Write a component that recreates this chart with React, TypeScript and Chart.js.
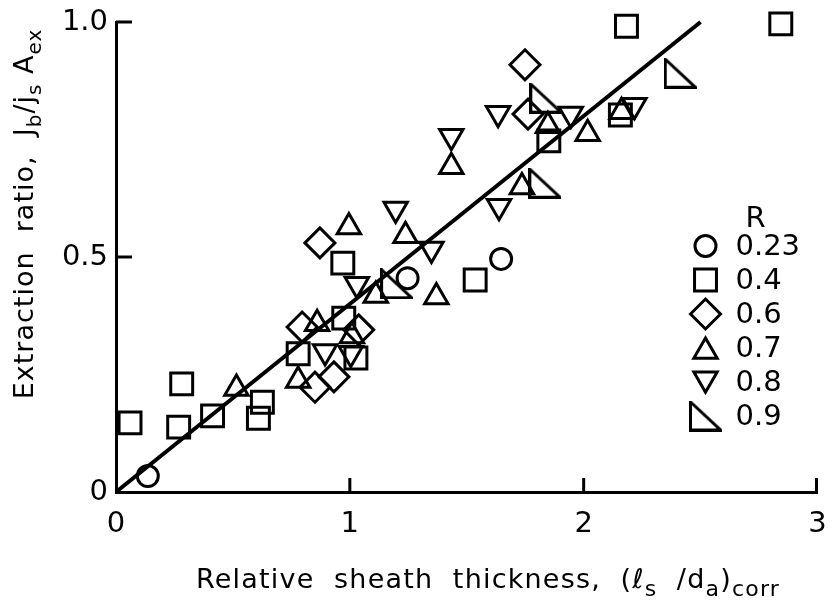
import React, { useEffect, useRef } from 'react';
import { Chart, registerables } from 'chart.js';
import { drawPoint } from 'chart.js/helpers';

Chart.register(...registerables);

// ---- data ----
const rLabels = ['0.23', '0.4', '0.6', '0.7', '0.8', '0.9'];

const circleX = [0.136, 1.247, 1.647];
const circleY = [0.034, 0.455, 0.496];

const squareX = [0.06, 0.268, 0.281, 0.413, 0.626, 0.609, 0.779, 0.97, 0.974, 1.026, 1.536, 1.851, 2.157, 2.183, 2.843];
const squareY = [0.147, 0.138, 0.23, 0.162, 0.191, 0.157, 0.294, 0.487, 0.37, 0.285, 0.451, 0.747, 0.802, 0.991, 0.996];

const diamondX = [0.796, 0.851, 0.872, 0.932, 1.038, 1.749, 1.762];
const diamondY = [0.351, 0.223, 0.53, 0.245, 0.345, 0.909, 0.804];

const upX = [0.515, 0.779, 0.86, 0.996, 1.009, 1.111, 1.238, 1.37, 1.434, 1.736, 1.847, 2.017, 2.162];
const upY = [0.22, 0.237, 0.358, 0.564, 0.332, 0.418, 0.545, 0.415, 0.692, 0.649, 0.779, 0.762, 0.809];

const downX = [0.894, 1.004, 1.03, 1.196, 1.349, 1.434, 1.634, 1.638, 1.945, 2.217];
const downY = [0.299, 0.295, 0.442, 0.602, 0.517, 0.757, 0.806, 0.608, 0.804, 0.823];

const rightX = [1.2, 1.834, 1.838, 2.413];
const rightY = [0.443, 0.657, 0.838, 0.891];

const fitX = [0, 2.5];
const fitY = [0, 1.0];

const xTicks = [0, 1, 2, 3];
const yTicks = [0, 0.5, 1.0];
const yTickLabels = ['0', '0.5', '1.0'];

const FONT = 'DejaVu Sans';

const pts = (xs: number[], ys: number[]) => xs.map((x, i) => ({ x, y: ys[i] }));

function makeRightTriangle(w: number, h: number, lw: number) {
  const c = document.createElement('canvas');
  c.width = w;
  c.height = h;
  const ctx = c.getContext('2d')!;
  ctx.lineWidth = lw;
  ctx.strokeStyle = '#000';
  ctx.lineJoin = 'miter';
  const p = lw / 2;
  ctx.beginPath();
  ctx.moveTo(p, p);
  ctx.lineTo(p, h - p);
  ctx.lineTo(w - p, h - p);
  ctx.closePath();
  ctx.stroke();
  return c;
}

type Part = { t: string; sub?: boolean };

function drawParts(ctx: CanvasRenderingContext2D, parts: Part[], size: number, spacing: number, subScale: number) {
  const widths: number[] = [];
  let total = 0;
  const fontFor = (p: Part) => `${p.sub ? Math.round(size * subScale) : size}px "${FONT}"`;
  parts.forEach((p) => {
    ctx.font = fontFor(p);
    (ctx as any).letterSpacing = `${spacing}px`;
    const w = ctx.measureText(p.t).width;
    widths.push(w);
    total += w;
  });
  let x = -total / 2;
  parts.forEach((p, i) => {
    ctx.font = fontFor(p);
    (ctx as any).letterSpacing = `${spacing}px`;
    ctx.fillText(p.t, x, p.sub ? size * 0.28 : 0);
    x += widths[i];
  });
}

const yTitle: Part[] = [
  { t: 'Extraction  ratio,  J' }, { t: 'b', sub: true }, { t: '/j' }, { t: 's', sub: true }, { t: ' A' }, { t: 'ex', sub: true },
];
const xTitle: Part[] = [
  { t: 'Relative  sheath  thickness,  (ℓ' }, { t: 's', sub: true }, { t: '  /d' }, { t: 'a', sub: true }, { t: ')' }, { t: 'corr', sub: true },
];

const decorPlugin = {
  id: 'decor',
  afterDraw(chart: any) {
    const { ctx, chartArea, scales } = chart;
    const xs = scales.x;
    const ys = scales.y;
    ctx.save();
    ctx.strokeStyle = '#000';
    ctx.lineWidth = 3;
    ctx.lineCap = 'butt';
    // inward ticks
    xTicks.forEach((v) => {
      if (v === 0) return;
      const px = Math.min(xs.getPixelForValue(v), chartArea.right - 1);
      ctx.beginPath();
      ctx.moveTo(px, chartArea.bottom);
      ctx.lineTo(px, chartArea.bottom - 14);
      ctx.stroke();
    });
    yTicks.forEach((v) => {
      if (v === 0) return;
      const py = ys.getPixelForValue(v);
      ctx.beginPath();
      ctx.moveTo(chartArea.left, py);
      ctx.lineTo(chartArea.left + 16, py);
      ctx.stroke();
    });

    // axis titles
    ctx.fillStyle = '#000';
    ctx.textBaseline = 'alphabetic';
    ctx.textAlign = 'left';
    ctx.save();
    ctx.translate(chartArea.left + 372, chartArea.bottom + 96);
    drawParts(ctx, xTitle, 27, 1.2, 0.8);
    ctx.restore();

    ctx.save();
    ctx.translate(chartArea.left - 83, (chartArea.top + chartArea.bottom) / 2 - 43);
    ctx.rotate(-Math.PI / 2);
    drawParts(ctx, yTitle, 27, 1, 0.75);
    ctx.restore();

    // legend
    (ctx as any).letterSpacing = '0px';
    ctx.font = `29px "${FONT}"`;
    ctx.textBaseline = 'middle';
    ctx.textAlign = 'center';
    ctx.fillText('R', chartArea.right - 62, chartArea.top + 197);
    ctx.textAlign = 'left';
    const markX = chartArea.right - 112;
    const textX = chartArea.right - 82;
    let row = 0;
    chart.data.datasets.forEach((ds: any) => {
      if (ds.isFit) return;
      const y = chartArea.top + 224 + row * 34;
      ctx.strokeStyle = '#000';
      ctx.fillStyle = 'rgba(0,0,0,0)';
      ctx.lineWidth = 3;
      let dy = 0;
      if (ds.pointStyle === 'triangle') dy = ds.pointRotation ? -ds.pointRadius / 4 : ds.pointRadius / 4;
      drawPoint(ctx, {
        pointStyle: ds.pointStyle,
        rotation: ds.pointRotation || 0,
        radius: ds.pointRadius,
        borderWidth: 3,
      } as any, markX, y + dy);
      ctx.fillStyle = '#000';
      ctx.fillText(ds.label, textX, y + 1);
      row++;
    });
    ctx.restore();
  },
};

export default function App() {
  const ref = useRef<HTMLCanvasElement>(null);
  useEffect(() => {
    const rightTri = makeRightTriangle(33, 31, 3);
    const base = {
      borderColor: '#000',
      backgroundColor: 'rgba(0,0,0,0)',
      pointBorderColor: '#000',
      pointBackgroundColor: 'rgba(0,0,0,0)',
      pointBorderWidth: 3,
      clip: false,
      showLine: false,
    };
    const chart = new Chart(ref.current!, {
      type: 'scatter',
      data: {
        datasets: [
          { ...base, isFit: true, label: 'fit', data: pts(fitX, fitY), showLine: true, borderWidth: 4, pointRadius: 0 } as any,
          { ...base, label: rLabels[0], data: pts(circleX, circleY), pointStyle: 'circle', pointRadius: 10.5 },
          { ...base, label: rLabels[1], data: pts(squareX, squareY), pointStyle: 'rect', pointRadius: 15.5 },
          { ...base, label: rLabels[2], data: pts(diamondX, diamondY), pointStyle: 'rectRot', pointRadius: 15 },
          { ...base, label: rLabels[3], data: pts(upX, upY), pointStyle: 'triangle', pointRadius: 13.5 },
          { ...base, label: rLabels[4], data: pts(downX, downY), pointStyle: 'triangle', pointRotation: 180, pointRadius: 13.5 },
          { ...base, label: rLabels[5], data: pts(rightX, rightY), pointStyle: rightTri, pointRadius: 15 },
        ],
      },
      options: {
        responsive: false,
        animation: false,
        events: [],
        layout: { padding: { top: 22, right: 15, left: 0, bottom: 0 } },
        plugins: { legend: { display: false }, tooltip: { enabled: false } },
        scales: {
          x: {
            type: 'linear',
            min: 0,
            max: 3,
            afterBuildTicks: (s: any) => { s.ticks = xTicks.map((v) => ({ value: v })); },
            afterFit: (s: any) => { s.height = 111; s.paddingLeft = 0; s.paddingRight = 0; },
            grid: { display: false, drawTicks: false },
            border: { display: true, color: '#000', width: 3 },
            ticks: {
              color: '#000',
              font: { family: FONT, size: 29 },
              padding: 15,
              maxRotation: 0,
              autoSkip: false,
              callback: (v: any) => String(v),
            },
          },
          y: {
            type: 'linear',
            min: 0,
            max: 1,
            afterBuildTicks: (s: any) => { s.ticks = yTicks.map((v) => ({ value: v })); },
            afterFit: (s: any) => { s.width = 116; s.paddingTop = 0; s.paddingBottom = 0; },
            grid: { display: false, drawTicks: false },
            border: { display: true, color: '#000', width: 3 },
            ticks: {
              color: '#000',
              font: { family: FONT, size: 29 },
              padding: 8,
              autoSkip: false,
              callback: (v: any) => yTickLabels[yTicks.indexOf(v)] ?? '',
            },
          },
        },
      },
      plugins: [decorPlugin],
    });
    return () => chart.destroy();
  }, []);
  return (
    <div style={{ position: 'absolute', left: 0, top: 0, width: 836, height: 603, background: '#fff' }}>
      <canvas ref={ref} width={836} height={603} />
    </div>
  );
}
